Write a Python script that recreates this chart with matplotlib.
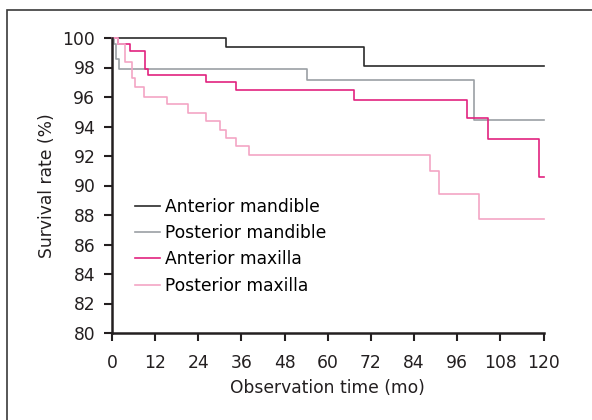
import matplotlib
matplotlib.use("Agg")
import matplotlib.pyplot as plt
from matplotlib.patches import Rectangle

plt.rcParams['font.family'] = ['DejaVu Sans']

# Kaplan-Meier step data (time in months, survival %)
ant_mand_t = [0, 31.8, 70.1, 120]
ant_mand_s = [100, 99.4, 98.07, 98.07]

post_mand_t = [0, 0.6, 1.1, 2.0, 54.1, 100.7, 120]
post_mand_s = [100, 99.6, 98.6, 97.9, 97.18, 94.42, 94.42]

ant_max_t = [0, 1.75, 5.0, 9.2, 9.9, 26.2, 34.6, 67.3, 98.7, 104.7, 118.7, 120]
ant_max_s = [100, 99.6, 99.1, 97.9, 97.5, 97.0, 96.46, 95.8, 94.6, 93.13, 90.6, 90.6]

post_max_t = [0, 1.8, 3.7, 5.6, 6.5, 9.0, 15.4, 21.2, 26.2, 29.9, 31.8, 34.4, 38.2, 88.4, 91.0, 102.2, 120]
post_max_s = [100, 99.6, 98.4, 97.3, 96.7, 96.03, 95.5, 94.9, 94.35, 93.76, 93.24, 92.67, 92.06, 90.97, 89.4, 87.76, 87.76]

labels = ["Anterior mandible", "Posterior mandible", "Anterior maxilla", "Posterior maxilla"]
colors = ["#2b2b2b", "#9ba0a4", "#e2237f", "#f3a5c5"]
xticks = [0, 12, 24, 36, 48, 60, 72, 84, 96, 108, 120]
yticks = [80, 82, 84, 86, 88, 90, 92, 94, 96, 98, 100]

W, H = 592, 420
fig = plt.figure(figsize=(W / 100, H / 100), dpi=100)
fig.patches.append(Rectangle((7 / W, -0.1), 1.2, 1 - 10 / H + 0.1, transform=fig.transFigure,
                             fill=False, edgecolor="#3a3a3a", linewidth=1.2))
ax = fig.add_axes([112 / W, 1 - 333 / H, (543.5 - 112) / W, (333 - 38) / H])

series = [(ant_mand_t, ant_mand_s), (post_mand_t, post_mand_s),
          (ant_max_t, ant_max_s), (post_max_t, post_max_s)]
for (t, s), lab, c in zip(series, labels, colors):
    ax.step(t, s, where="post", color=c, lw=1.2, label=lab, clip_on=False)

fs = 12.3
ax.set_xlim(0, 120)
ax.set_ylim(80, 100)
ax.set_xticks(xticks)
ax.set_yticks(yticks)
ax.tick_params(axis="both", direction="out", length=6, width=1.5, labelsize=fs,
               colors="#231f20", pad=6)
ax.tick_params(axis="x", pad=9)
for sp in ["top", "right"]:
    ax.spines[sp].set_visible(False)
for sp in ["left", "bottom"]:
    ax.spines[sp].set_linewidth(1.8)
    ax.spines[sp].set_color("#231f20")

ax.set_xlabel("Observation time (mo)", fontsize=fs, color="#231f20", labelpad=5)
ax.set_ylabel("Survival rate (%)", fontsize=fs, color="#231f20", labelpad=5)

leg = fig.legend(*ax.get_legend_handles_labels(), loc="upper left",
                 bbox_to_anchor=(135 / W, 1 - 198 / H), bbox_transform=fig.transFigure,
                 frameon=False, fontsize=fs, borderpad=0, borderaxespad=0,
                 handlelength=1.46, handletextpad=0.3, labelspacing=0.48)
for line in leg.get_lines():
    line.set_linewidth(1.2)

fig.savefig("out.png", dpi=100)
